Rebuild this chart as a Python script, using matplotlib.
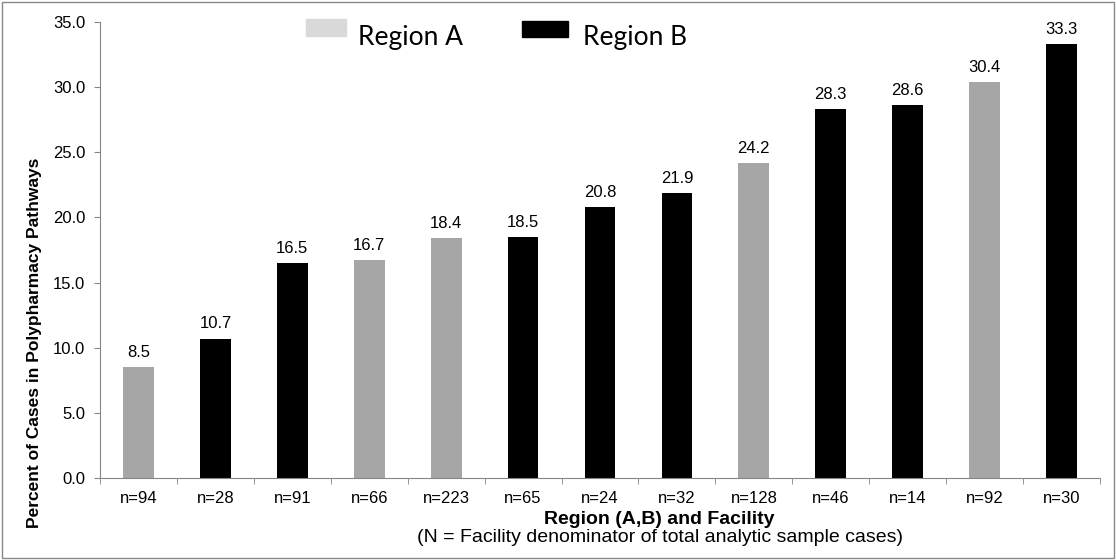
import matplotlib.pyplot as plt
from matplotlib.patches import Rectangle

plt.rcParams['font.family'] = ['Liberation Sans', 'DejaVu Sans']

labels = ['n=94', 'n=28', 'n=91', 'n=66', 'n=223', 'n=65', 'n=24',
          'n=32', 'n=128', 'n=46', 'n=14', 'n=92', 'n=30']
values = [8.5, 10.7, 16.5, 16.7, 18.4, 18.5, 20.8, 21.9, 24.2, 28.3, 28.6, 30.4, 33.3]
regions = ['A', 'B', 'B', 'A', 'A', 'B', 'B', 'B', 'A', 'B', 'B', 'A', 'B']

col_a = '#a6a6a6'
col_b = '#000000'
colors = [col_a if r == 'A' else col_b for r in regions]

fig = plt.figure(figsize=(11.16, 5.6), dpi=100)
ax = fig.add_axes([0.0896, 0.1464, 0.8961, 0.8143])

x = range(len(values))
ax.bar(x, values, width=0.4, color=colors)
for xi, v in zip(x, values):
    ax.text(xi, v + 0.55, f'{v:.1f}', ha='center', va='bottom', fontsize=12)

ax.set_xlim(-0.5, len(values) - 0.5)
ax.set_ylim(0, 35)
ax.set_yticks([0, 5, 10, 15, 20, 25, 30, 35])
ax.set_yticklabels([f'{t:.1f}' for t in ax.get_yticks()], fontsize=12)
ax.set_xticks(list(x))
ax.set_xticklabels(labels, fontsize=12)
ax.tick_params(axis='x', length=0, pad=9)
ax.set_xticks([i - 0.5 for i in range(len(values) + 1)], minor=True)
ax.tick_params(axis='x', which='minor', length=4, color='#868686')
ax.tick_params(axis='y', length=4, color='#868686', pad=6.5)

for s in ['top', 'right']:
    ax.spines[s].set_visible(False)
for s in ['left', 'bottom']:
    ax.spines[s].set_color('#868686')

fig.text(0.031, 0.387, 'Percent of Cases in Polypharmacy Pathways', rotation=90,
         ha='center', va='center', fontsize=12.5, fontweight='bold')
fig.text(0.591, 0.073, 'Region (A,B) and Facility', ha='center', va='center',
         fontsize=14, fontweight='bold')
fig.text(0.591, 0.040, '(N = Facility denominator of total analytic sample cases)',
         ha='center', va='center', fontsize=14)

# legend drawn by hand (swatches + text) to match the original placement
W, H = 1116, 560
fig.patches.append(Rectangle((306 / W, 1 - 36 / H), 40 / W, 17 / H, transform=fig.transFigure,
                             color='#d9d9d9'))
fig.patches.append(Rectangle((522 / W, 1 - 37 / H), 46 / W, 16 / H, transform=fig.transFigure,
                             color=col_b))
fig.text(358 / W, 1 - 45 / H, 'Region A', fontsize=19, family='Lato', va='baseline')
fig.text(583 / W, 1 - 45 / H, 'Region B', fontsize=19, family='Lato', va='baseline')

# outer border
fig.patches.append(Rectangle((0.002, 0.004), 0.996, 0.992, transform=fig.transFigure,
                             fill=False, edgecolor='#888888', lw=1))

fig.savefig('out.png', dpi=100)
